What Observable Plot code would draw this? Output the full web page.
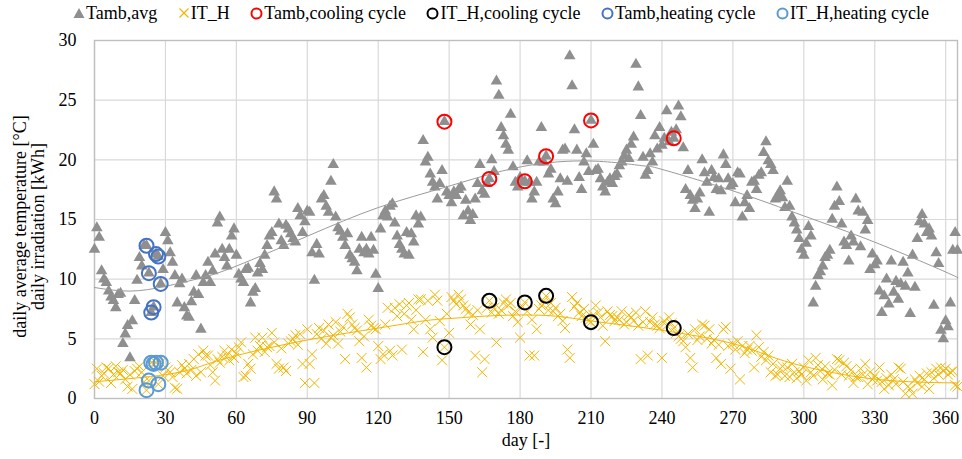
<!DOCTYPE html>
<html>
<head>
<meta charset="utf-8">
<script src="https://cdn.jsdelivr.net/npm/d3@7"></script>
<script src="https://cdn.jsdelivr.net/npm/@observablehq/plot@0.6"></script>
<style>
  body { margin: 0; background: #fff; font-family: "Liberation Serif", "Times New Roman", Times, serif; }
  #wrap { position: relative; width: 962px; height: 459px; }
  #legend { position: absolute; left: 0; top: 0; width: 962px; height: 26px; display: flex; align-items: center;
            padding-left: 73px; box-sizing: border-box; font-size: 18px; color: #000; white-space: nowrap; }
  #legend .item { display: flex; align-items: center; margin-right: 20.5px; }
  #legend svg { margin-right: 1px; }
  #chart { position: absolute; left: 0; top: 26px; }
</style>
</head>
<body>
<div id="wrap">
  <div id="legend"></div>
  <div id="chart"></div>
</div>
<script>
// ---- data (day index = position, day 0 .. 365) ----
const tambAvg = [
  12.5,14.3,13.5,10.7,10.0,9.7,9.0,8.5,8.2,7.6,
  8.7,8.8,4.6,5.4,6.1,3.4,6.5,8.2,9.9,11.8,
  11.1,12.8,12.8,10.5,7.2,7.65,12.1,11.9,9.6,10.8,
  13.9,13.2,12.2,11.4,10.3,8.0,9.6,10.0,7.6,6.9,
  6.8,8.1,8.9,10.3,8.7,5.8,9.7,10.3,11.4,9.7,
  10.7,12.1,14.7,15.2,12.5,11.8,11.1,12.5,13.6,14.2,
  12.0,10.4,10.0,9.7,10.8,10.9,8.0,8.9,9.2,10.5,
  11.3,10.8,12.0,12.8,13.6,13.9,17.3,16.7,14.6,13.2,
  12.8,14.5,14.2,13.8,13.4,13.1,15.9,15.3,13.9,14.8,
  15.7,15.6,12.2,9.9,12.9,12.1,16.7,17.0,16.1,15.6,
  18.2,19.6,15.2,14.3,14.0,13.5,12.8,13.8,12.0,11.7,
  11.4,10.7,12.5,13.5,12.2,12.5,12.1,13.5,12.4,10.4,
  9.2,14.2,15.3,15.7,15.2,16.1,16.3,14.7,13.6,12.9,
  12.5,12.1,13.9,12.0,13.8,13.1,15.3,14.6,15.2,21.6,
  19.8,20.2,18.8,18.1,17.7,16.7,18.0,19.1,23.2,17.3,
  17.0,16.4,17.3,17.0,17.5,17.7,15.3,16.6,15.7,14.9,
  15.4,16.7,18.0,19.6,17.4,17.1,18.0,18.4,20.0,19.0,
  26.6,25.4,22.7,22.0,21.3,20.8,23.8,19.4,18.1,17.7,
  18.5,18.1,18.2,19.9,18.1,16.7,17.3,18.1,19.8,22.7,
  19.8,20.3,18.8,19.2,16.7,16.3,17.3,18.4,20.8,20.9,
  18.2,28.7,26.2,22.5,20.8,18.5,17.5,19.8,20.5,19.0,
  23.3,21.3,19.1,19.2,18.4,17.7,17.3,18.1,18.4,18.0,
  18.6,18.8,19.5,19.8,20.3,20.8,20.1,21.3,21.9,28.0,
  26.1,23.7,20.2,18.7,19.1,20.5,19.8,22.0,20.9,22.7,
  21.2,21.8,24.1,21.5,22.3,21.8,22.5,24.5,23.6,21.0,
  17.5,19.1,17.0,16.6,15.9,16.7,17.2,20.0,18.9,18.1,
  15.6,19.1,18.5,17.5,18.4,17.4,20.4,19.6,18.4,17.8,
  18.0,16.4,18.9,18.8,15.2,16.4,17.0,15.9,18.1,18.2,
  17.5,18.7,18.9,20.6,21.5,19.9,19.6,19.1,16.7,17.0,
  17.4,16.8,16.0,18.2,16.1,15.2,14.7,14.1,13.4,12.5,
  12.0,13.0,14.4,13.6,8.0,9.4,10.3,10.6,11.1,11.8,
  12.0,12.4,15.0,16.1,17.7,16.5,14.6,13.1,12.8,11.5,
  13.6,13.1,16.7,15.7,12.7,15.6,14.1,14.9,10.8,12.1,
  11.2,11.5,9.0,7.2,8.6,10.0,7.9,11.5,8.9,9.8,
  8.3,9.6,11.4,9.4,10.5,7.1,12.0,9.3,13.4,14.8,
  15.4,14.6,13.9,14.2,13.6,7.8,12.2,11.3,5.7,5.0,
  6.5,6.0,8.0,12.4,13.9,12.4
];
const itH = [
  1.2,2.5,1.4,1.9,2.1,2.6,2.5,1.3,2.0,2.7,
  2.2,2.1,2.4,1.6,1.0,2.0,0.8,2.3,2.5,2.7,
  2.2,1.4,0.7,1.5,3.0,2.9,3.0,1.2,3.0,1.9,
  2.6,2.4,2.2,1.8,0.9,0.8,2.2,2.8,2.5,2.1,
  2.9,2.4,3.3,1.9,3.7,2.2,4.0,3.6,3.6,2.8,
  2.2,1.5,3.3,3.0,3.5,4.0,3.6,3.2,4.1,3.4,
  3.8,4.3,4.7,1.8,1.9,2.9,2.5,3.7,5.1,4.0,
  4.4,5.1,3.9,4.3,4.4,5.5,4.7,2.9,2.5,4.2,
  2.6,2.3,4.6,4.8,5.0,5.3,4.5,5.4,2.9,1.3,
  5.8,2.9,3.7,1.3,5.4,5.9,5.0,5.7,4.6,6.2,
  5.1,5.3,6.4,4.6,5.6,6.0,3.3,7.1,6.8,6.2,
  5.9,5.7,4.8,3.4,5.2,2.6,6.6,6.1,5.9,5.8,
  4.4,3.3,3.7,6.2,7.6,4.0,3.6,7.6,6.9,7.9,
  4.1,7.1,7.8,8.0,6.6,5.8,7.4,8.3,8.3,3.9,
  6.6,8.2,5.8,5.1,8.7,8.2,6.5,3.2,4.3,7.1,
  5.5,8.5,8.2,7.9,8.7,8.3,7.8,7.5,7.2,6.2,
  7.0,3.6,7.4,5.8,2.2,3.3,7.6,8.2,7.2,7.6,
  4.7,7.1,7.4,8.0,8.3,7.8,8.0,6.9,7.3,6.4,
  5.1,7.7,8.05,7.3,3.6,6.6,3.6,5.8,7.5,7.8,
  8.2,8.6,7.4,8.0,7.3,7.6,6.9,7.1,6.5,5.9,
  4.1,3.4,8.5,7.7,8.0,7.2,6.9,7.5,6.8,6.5,
  6.4,7.0,7.8,7.2,6.8,6.1,4.8,7.3,7.0,6.9,
  6.5,6.8,6.6,7.3,6.2,6.4,7.0,6.8,6.5,7.2,
  6.1,3.3,6.4,7.3,3.6,6.4,6.8,6.2,6.1,5.9,
  3.4,6.5,6.1,6.8,6.3,5.9,5.5,5.2,5.0,4.8,
  4.3,5.4,3.4,2.6,5.8,4.9,5.2,6.2,6.1,5.0,
  5.8,4.6,4.9,3.4,4.5,2.9,5.8,6.0,4.4,2.5,
  4.6,4.1,4.8,1.6,4.4,3.8,4.1,4.4,4.0,2.6,
  5.3,4.3,3.5,3.9,3.2,3.6,2.2,2.9,1.9,2.0,
  2.5,2.7,1.9,2.6,1.8,2.9,2.2,1.7,2.3,2.0,
  2.6,1.5,3.2,2.2,1.9,3.4,2.8,2.3,1.6,2.7,
  2.1,2.0,1.1,2.4,3.3,3.2,2.0,3.0,2.7,1.9,
  2.4,1.3,1.8,1.8,2.5,2.0,2.9,1.2,2.2,1.6,
  1.9,1.5,2.6,1.4,0.8,1.7,1.1,2.0,1.6,1.2,
  2.6,2.5,1.4,0.4,1.0,0.8,0.4,1.6,1.3,1.9,
  1.0,1.6,2.1,0.8,2.2,1.7,2.5,2.0,2.6,2.3,
  2.5,2.0,2.2,2.3,1.1,1.0
];
const coolingDays = [148, 167, 182, 191, 210, 245];
const heatingDays = [22, 23, 24, 25, 26, 27, 28];

// trend lines
const tambTrendDays = [0, 15, 30, 45, 60, 90, 120, 150, 180, 210, 232, 240, 270, 300, 330, 360, 365];
const tambTrendVals = [9.3, 9.0, 9.4, 10.1, 11.1, 13.6, 16.0, 17.8, 19.4, 19.9, 19.5, 19.2, 17.4, 15.3, 13.1, 10.6, 10.1];
const itTrendDays = [0, 30, 45, 60, 90, 120, 139, 150, 165, 180, 195, 210, 230, 250, 270, 285, 300, 323, 345, 365];
const itTrendVals = [1.4, 2.0, 2.7, 3.6, 4.9, 5.9, 6.5, 6.7, 6.9, 7.0, 6.9, 6.5, 6.0, 5.4, 4.6, 3.6, 2.7, 1.8, 1.4, 1.3];

const xTicks = [0, 30, 60, 90, 120, 150, 180, 210, 240, 270, 300, 330, 360];
const yTicks = [0, 5, 10, 15, 20, 25, 30];

const seriesNames = ["Tamb,avg", "IT_H", "Tamb,cooling cycle", "IT_H,cooling cycle", "Tamb,heating cycle", "IT_H,heating cycle"];
const colors = { tamb: "#8f8f8f", it: "#f2b600", coolT: "#ff0000", coolI: "#000000", heatT: "#4472c4", heatI: "#5b9bd5" };

// ---- build rows ----
const tambRows = tambAvg.map((v, day) => ({ day, v }));
const itRows = itH.map((v, day) => ({ day, v }));
const coolT = coolingDays.map(day => ({ day, v: tambAvg[day] }));
const coolI = coolingDays.map(day => ({ day, v: itH[day] }));
const heatT = heatingDays.map(day => ({ day, v: tambAvg[day] }));
const heatI = heatingDays.map(day => ({ day, v: itH[day] }));
const tambTrend = tambTrendDays.map((day, i) => ({ day, v: tambTrendVals[i] }));
const itTrend = itTrendDays.map((day, i) => ({ day, v: itTrendVals[i] }));

const serif = "'Liberation Serif', 'Times New Roman', Times, serif";
const circle = (data, color) => Plot.dot(data, { x: "day", y: "v", r: 7, stroke: color, strokeWidth: 2, fill: "none" });

const chart = Plot.plot({
  width: 962,
  height: 433,
  marginTop: 14,
  marginBottom: 61,
  marginLeft: 94,
  marginRight: 5,
  style: { fontFamily: serif, fontSize: "18px", color: "#000", background: "#fff" },
  x: { domain: [0, 365], ticks: xTicks, tickSize: 0, tickPadding: 13, label: null },
  y: { domain: [0, 30], ticks: yTicks, tickSize: 0, tickPadding: 18, label: null },
  marks: [
    Plot.ruleX(xTicks, { stroke: "#d9d9d9", strokeWidth: 1.2 }),
    Plot.ruleY(yTicks, { stroke: "#d9d9d9", strokeWidth: 1.2 }),
    Plot.frame({ stroke: "#bfbfbf", strokeWidth: 1.4 }),
    Plot.dot(tambRows, { x: "day", y: "v", symbol: "triangle", r: 4.3, fill: colors.tamb, stroke: "none" }),
    Plot.dot(itRows, { x: "day", y: "v", symbol: "times", r: 4.6, stroke: colors.it, strokeWidth: 1, fill: "none" }),
    Plot.line(tambTrend, { x: "day", y: "v", stroke: "#9a9a9a", strokeWidth: 1, curve: "natural" }),
    Plot.line(itTrend, { x: "day", y: "v", stroke: colors.it, strokeWidth: 1, curve: "natural" }),
    circle(coolT, colors.coolT),
    circle(coolI, colors.coolI),
    circle(heatT, colors.heatT),
    circle(heatI, colors.heatI),
    Plot.text(["day [-]"], { text: d => d, frameAnchor: "bottom", textAnchor: "middle", lineAnchor: "middle", dy: 42, fontSize: 18 }),
    Plot.text(["daily average temperature [°C]"], { text: d => d, frameAnchor: "left", textAnchor: "middle", lineAnchor: "middle", dx: -74, dy: 7, rotate: -90, fontSize: 18 }),
    Plot.text(["daily irradiation [kWh]"], { text: d => d, frameAnchor: "left", textAnchor: "middle", lineAnchor: "middle", dx: -56, dy: 7, rotate: -90, fontSize: 18 })
  ]
});
document.getElementById("chart").appendChild(chart);

// ---- legend ----
const icons = [
  `<svg width="12" height="12"><polygon points="6,1 11.5,11 0.5,11" fill="${colors.tamb}"/></svg>`,
  `<svg width="12" height="12"><path d="M1.5,1.5L10.5,10.5M10.5,1.5L1.5,10.5" stroke="${colors.it}" stroke-width="1.2"/></svg>`,
  `<svg width="13" height="13"><circle cx="6.5" cy="6.5" r="5" fill="none" stroke="${colors.coolT}" stroke-width="2"/></svg>`,
  `<svg width="13" height="13"><circle cx="6.5" cy="6.5" r="5" fill="none" stroke="${colors.coolI}" stroke-width="2"/></svg>`,
  `<svg width="13" height="13"><circle cx="6.5" cy="6.5" r="5" fill="none" stroke="${colors.heatT}" stroke-width="2"/></svg>`,
  `<svg width="13" height="13"><circle cx="6.5" cy="6.5" r="5" fill="none" stroke="${colors.heatI}" stroke-width="2"/></svg>`
];
const legend = document.getElementById("legend");
seriesNames.forEach((name, i) => {
  const item = document.createElement("div");
  item.className = "item";
  item.innerHTML = icons[i] + `<span>${name}</span>`;
  legend.appendChild(item);
});
</script>
</body>
</html>
